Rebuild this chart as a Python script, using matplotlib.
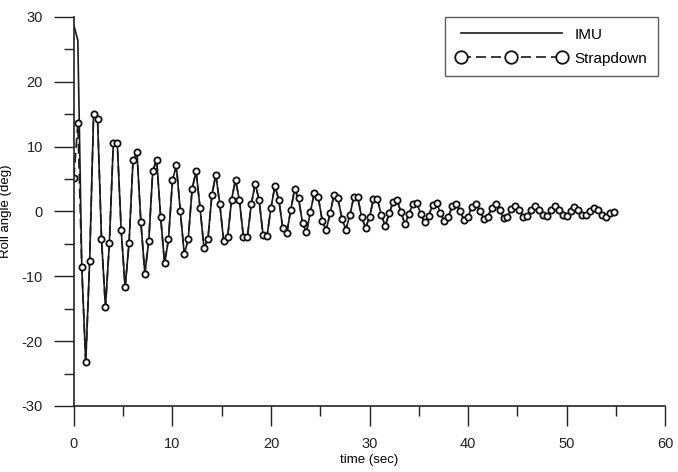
import numpy as np
import matplotlib
matplotlib.use("Agg")
import matplotlib.pyplot as plt
from matplotlib.ticker import MultipleLocator

plt.rcParams['font.family'] = ['Liberation Sans', 'DejaVu Sans']
plt.rcParams['axes.unicode_minus'] = False

# roll angle samples (deg), one every 0.4 s
dt = 0.4
strapdown_roll = [
    5.2, 13.6, -8.6, -23.3, -7.6, 15.1, 14.3, -4.2, -14.8, -4.9,
    10.5, 10.6, -2.9, -11.7, -4.8, 7.9, 9.1, -1.7, -9.6, -4.5,
    6.2, 8.0, -0.8, -8.0, -4.3, 4.8, 7.1, 0.0, -6.6, -4.3,
    3.5, 6.2, 0.6, -5.6, -4.3, 2.5, 5.7, 1.2, -4.6, -4.0,
    1.8, 4.9, 1.7, -3.9, -4.0, 1.1, 4.3, 1.7, -3.7, -3.8,
    0.6, 3.9, 1.8, -2.6, -3.4, 0.2, 3.4, 2.0, -1.8, -3.2,
    -0.1, 2.9, 2.2, -1.4, -2.9, -0.3, 2.6, 2.0, -1.1, -2.8,
    -0.6, 2.2, 2.2, -0.9, -2.5, -0.9, 1.9, 1.9, -0.6, -2.2,
    -0.3, 1.5, 1.7, -0.1, -2.0, -0.4, 1.2, 1.3, -0.4, -1.7,
    -0.7, 1.0, 1.3, -0.2, -1.5, -0.8, 0.8, 1.2, 0.0, -1.3,
    -0.8, 0.7, 1.2, 0.1, -1.1, -0.8, 0.5, 1.1, 0.2, -1.0,
    -0.8, 0.4, 0.9, 0.2, -0.8, -0.7, 0.3, 0.9, 0.3, -0.6,
    -0.7, 0.2, 0.8, 0.3, -0.6, -0.7, 0.1, 0.7, 0.3, -0.5,
    -0.6, 0.0, 0.5, 0.3, -0.5, -0.8, -0.3, -0.1,
]
# IMU only differs at the very start
imu_start = [28.7, 26.4]
imu_roll = imu_start + strapdown_roll[len(imu_start):]

time = np.arange(len(strapdown_roll)) * dt

fig = plt.figure(figsize=(6.78, 4.72), dpi=100)
ax = fig.add_axes([0.109, 0.14, 0.872, 0.824])

ax.plot(time, imu_roll, color='#1a1a1a', lw=1.2, label='IMU')
ax.plot(time, strapdown_roll, color='#1a1a1a', lw=1.2, ls=(0, (6, 3)),
        marker='o', ms=4.5, mfc='white', mec='#111111', mew=1.3,
        label='Strapdown')

ax.set_xlim(0, 60)
ax.set_ylim(-30, 30)
ax.xaxis.set_major_locator(MultipleLocator(10))
ax.xaxis.set_minor_locator(MultipleLocator(5))
ax.yaxis.set_major_locator(MultipleLocator(10))
ax.yaxis.set_minor_locator(MultipleLocator(5))
ax.tick_params(which='major', direction='out', length=14.4, width=1.0,
               pad=8, labelsize=10.5, colors='#222222')
ax.tick_params(which='minor', direction='out', length=7.2, width=1.0,
               colors='#222222')

for s in ['top', 'right']:
    ax.spines[s].set_visible(False)
for s in ['left', 'bottom']:
    ax.spines[s].set_linewidth(1.2)
    ax.spines[s].set_color('#222222')

ax.set_xlabel('time (sec)', fontsize=9.5, labelpad=2)
ax.set_ylabel('Roll angle (deg)', fontsize=9.5)
ax.yaxis.set_label_coords(-0.105, 0.5)

leg = ax.legend(loc='upper right', bbox_to_anchor=(0.988, 1.0),
                borderaxespad=0, fancybox=False, edgecolor='#333333',
                fontsize=11, numpoints=3, handlelength=7.2,
                handletextpad=0.55, labelspacing=0.65, borderpad=0.7,
                markerscale=2.0)
leg.get_frame().set_linewidth(1.0)

fig.savefig('out.png', dpi=100)
